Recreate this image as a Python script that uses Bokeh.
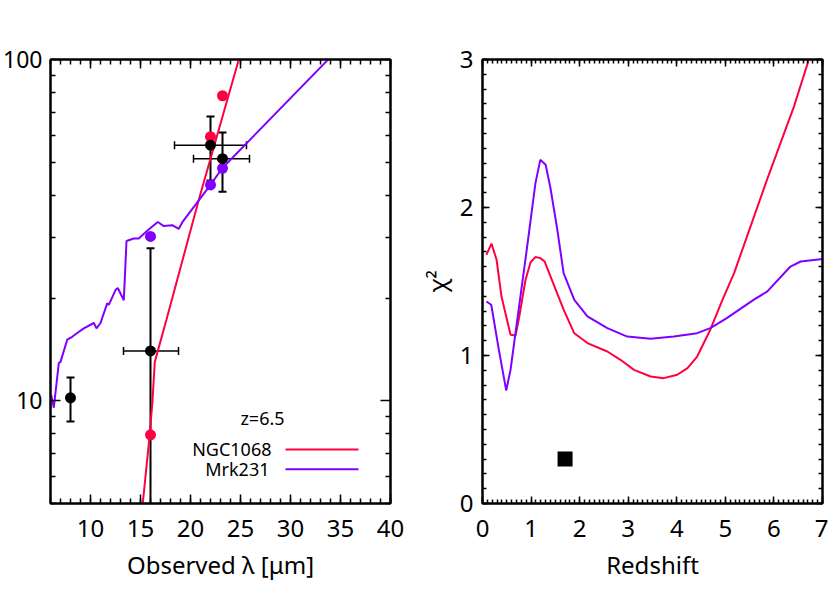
from bokeh.plotting import figure
from bokeh.layouts import row
from bokeh.models import (Range1d, FixedTicker, SingleIntervalTicker, LinearAxis, LogAxis,
                          PrintfTickFormatter, Whisker, ColumnDataSource, Label, TeeHead,
                          CustomJSTickFormatter)
from bokeh.embed import file_html
from bokeh.resources import INLINE

RED = "#ff0040"
PURPLE = "#8000ff"
FONT = "Noto Sans"

# ---------------- left panel data: observed SED at z=6.5 ----------------
ngc_wave = [15.0, 15.93, 16.2, 16.43, 17.6, 20.83, 24.83, 25.5]
ngc_flux = [4.3, 8.0, 10.0, 13.0, 17.3, 38.8, 100.0, 117.0]

mrk_wave = [5.93, 6.07, 6.33, 6.83, 7.0, 7.67, 8.17, 8.67, 9.33, 10.33, 10.6, 11.0, 11.67,
            11.83, 12.5, 12.73, 13.33, 13.6, 14.33, 14.83, 15.67, 16.73, 17.33, 18.17,
            18.83, 19.17, 22.0, 23.17, 33.83, 35.0]
mrk_flux = [9.08, 10.4, 9.54, 12.9, 13.0, 15.1, 15.4, 15.8, 16.3, 16.9, 16.3, 16.9, 19.3,
            19.1, 21.1, 21.4, 19.7, 29.4, 29.9, 29.9, 31.5, 33.4, 32.5, 32.7,
            31.9, 33.3, 42.9, 48.0, 100.4, 109.0]

obs_wave = [8.0, 16.0, 22.0, 23.2]
obs_flux = [10.2, 14.0, 56.1, 51.2]
obs_flux_hi = [11.7, 28.0, 68.1, 61.1]
obs_flux_lo = [8.7, 1.0, 44.2, 41.0]

xerr_wave = [16.0, 22.0, 23.2]
xerr_flux = [14.0, 56.1, 51.2]
xerr_lo = [13.3, 18.4, 20.3]
xerr_hi = [18.8, 25.6, 25.9]

band_wave = [16.0, 22.0, 23.2]
ngc_band = [7.95, 59.4, 78.3]
mrk_band = [30.3, 42.9, 48.0]

# legend
legend_title = "z=6.5"
legend_title_x = 27.2
legend_title_y = 8.9
legend_names = ["NGC1068", "Mrk231"]
legend_colors = [RED, PURPLE]
legend_text_x = [28.1, 27.9]
legend_y = [7.2, 6.3]
legend_line_x0 = 29.5
legend_line_x1 = 36.8

# ---------------- right panel data: chi^2 vs redshift ----------------
ngc_z = [0.08, 0.185, 0.29, 0.39, 0.577, 0.68, 0.75, 0.885, 0.99, 1.09, 1.19, 1.28, 1.43,
         1.67, 1.89, 2.16, 2.57, 2.84, 3.12, 3.46, 3.73, 4.01, 4.22, 4.42, 4.69, 4.94,
         5.18, 5.86, 6.41, 6.72, 7.0]
ngc_chi = [1.68, 1.756, 1.647, 1.40, 1.14, 1.135, 1.25, 1.51, 1.63, 1.665, 1.658, 1.635, 1.51,
           1.31, 1.15, 1.084, 1.027, 0.971, 0.903, 0.858, 0.847, 0.87, 0.915, 0.993, 1.174,
           1.376, 1.557, 2.19, 2.68, 3.0, 3.3]

mrk_z = [0.08, 0.18, 0.336, 0.488, 0.577, 0.92, 1.09, 1.19, 1.30, 1.40, 1.54, 1.67, 1.89,
         2.16, 2.57, 2.98, 3.46, 3.94, 4.42, 4.69, 5.03, 5.58, 5.86, 6.34, 6.55, 6.96, 7.0]
mrk_chi = [1.365, 1.343, 1.04, 0.764, 0.903, 1.737, 2.165, 2.322, 2.289, 2.13, 1.85, 1.557,
           1.376, 1.264, 1.185, 1.128, 1.113, 1.128, 1.151, 1.185, 1.253, 1.376, 1.432, 1.601,
           1.635, 1.651, 1.652]

best_z = [1.7]
best_chi = [0.30]

log_major = [10, 100]
log_minor = [5, 6, 7, 8, 9, 20, 30, 40, 50, 60, 70, 80, 90]

BLANK = CustomJSTickFormatter(code="return ''")


def style_axis(ax, major_in, minor_in, labels, size="24px", standoff=10):
    ax.major_tick_in = major_in
    ax.major_tick_out = 0
    ax.minor_tick_in = minor_in
    ax.minor_tick_out = 0
    ax.major_tick_line_width = 1.5
    ax.minor_tick_line_width = 1.5
    ax.axis_line_width = 2
    ax.major_label_text_font = FONT
    ax.major_label_text_color = "black"
    ax.axis_label_text_font = FONT
    ax.axis_label_text_color = "black"
    ax.axis_label_text_font_style = "normal"
    ax.axis_label_text_font_size = "24px"
    ax.major_label_text_font_size = size
    if labels:
        ax.major_label_standoff = standoff
    else:
        ax.formatter = BLANK
        ax.major_label_standoff = 0


# ---------------- left panel ----------------
p1 = figure(width=412, height=590, x_range=Range1d(6, 40), y_range=Range1d(5, 100),
            y_axis_type="log", output_backend="svg", toolbar_location=None, title=None,
            min_border_left=50, min_border_right=22, min_border_top=59, min_border_bottom=87)
p1.grid.visible = False
p1.outline_line_color = "black"
p1.outline_line_width = 2

xt1 = SingleIntervalTicker(interval=5, num_minor_ticks=5)
yt1 = FixedTicker(ticks=log_major, minor_ticks=log_minor)
p1.xaxis.ticker = xt1
p1.yaxis.ticker = yt1
p1.yaxis.formatter = PrintfTickFormatter(format="%d")
p1.xaxis.axis_label = "Observed λ [μm]"
style_axis(p1.xaxis[0], 9, 5, True, "24px", 16)
p1.xaxis[0].axis_label_standoff = 8
style_axis(p1.yaxis[0], 10, 5, True, "23px", 8)
top1 = LinearAxis(ticker=xt1)
style_axis(top1, 9, 5, False)
p1.add_layout(top1, "above")
right1 = LogAxis(ticker=yt1)
style_axis(right1, 10, 5, False)
p1.add_layout(right1, "right")

p1.line(ngc_wave, ngc_flux, line_color=RED, line_width=2)
p1.line(mrk_wave, mrk_flux, line_color=PURPLE, line_width=2)

src_y = ColumnDataSource(dict(x=obs_wave, y=obs_flux, lo=obs_flux_lo, hi=obs_flux_hi))
src_x = ColumnDataSource(dict(y=xerr_flux, lo=xerr_lo, hi=xerr_hi))
p1.add_layout(Whisker(source=src_y, base="x", lower="lo", upper="hi", dimension="height",
                      line_width=2, line_color="black",
                      lower_head=TeeHead(size=8, line_width=2, line_color="black"),
                      upper_head=TeeHead(size=8, line_width=2, line_color="black")))
p1.add_layout(Whisker(source=src_x, base="y", lower="lo", upper="hi", dimension="width",
                      line_width=1.5, line_color="black",
                      lower_head=TeeHead(size=8, line_width=1.5, line_color="black"),
                      upper_head=TeeHead(size=8, line_width=1.5, line_color="black")))

p1.scatter(band_wave, ngc_band, size=11, color=RED, line_color=None)
p1.scatter(band_wave, mrk_band, size=11, color=PURPLE, line_color=None)
p1.scatter("x", "y", source=src_y, size=11, color="black", line_color=None)

p1.segment(x0=[legend_line_x0] * 2, x1=[legend_line_x1] * 2, y0=legend_y, y1=legend_y,
           line_color=legend_colors, line_width=2)
p1.add_layout(Label(x=legend_title_x, y=legend_title_y, text=legend_title,
                    text_align="center", text_baseline="middle", text_font=FONT,
                    text_font_size="18px", text_color="black"))
for name, tx, ty in zip(legend_names, legend_text_x, legend_y):
    p1.add_layout(Label(x=tx, y=ty, text=name, text_align="right", text_baseline="middle",
                        text_font=FONT, text_font_size="18px", text_color="black"))

# ---------------- right panel ----------------
p2 = figure(width=416, height=590, x_range=Range1d(0, 7), y_range=Range1d(0, 3),
            output_backend="svg", toolbar_location=None, title=None,
            min_border_left=70, min_border_right=6, min_border_top=59, min_border_bottom=87)
p2.grid.visible = False
p2.outline_line_color = "black"
p2.outline_line_width = 2

xt2 = SingleIntervalTicker(interval=1, num_minor_ticks=10)
yt2 = SingleIntervalTicker(interval=1, num_minor_ticks=10)
p2.xaxis.ticker = xt2
p2.yaxis.ticker = yt2
p2.xaxis.axis_label = "Redshift"
p2.yaxis.axis_label = "χ²"
style_axis(p2.xaxis[0], 7, 4, True, "24px", 16)
p2.xaxis[0].axis_label_standoff = 8
style_axis(p2.yaxis[0], 7, 4, True, "24px", 9)
p2.yaxis[0].axis_label_standoff = 4
top2 = LinearAxis(ticker=xt2)
style_axis(top2, 7, 4, False)
p2.add_layout(top2, "above")
right2 = LinearAxis(ticker=yt2)
style_axis(right2, 7, 4, False)
p2.add_layout(right2, "right")

p2.line(ngc_z, ngc_chi, line_color=RED, line_width=2)
p2.line(mrk_z, mrk_chi, line_color=PURPLE, line_width=2)
p2.scatter(best_z, best_chi, marker="square", size=15, color="black", line_color=None)

layout = row(p1, p2)
open("out.html", "w").write(file_html(layout, INLINE))
